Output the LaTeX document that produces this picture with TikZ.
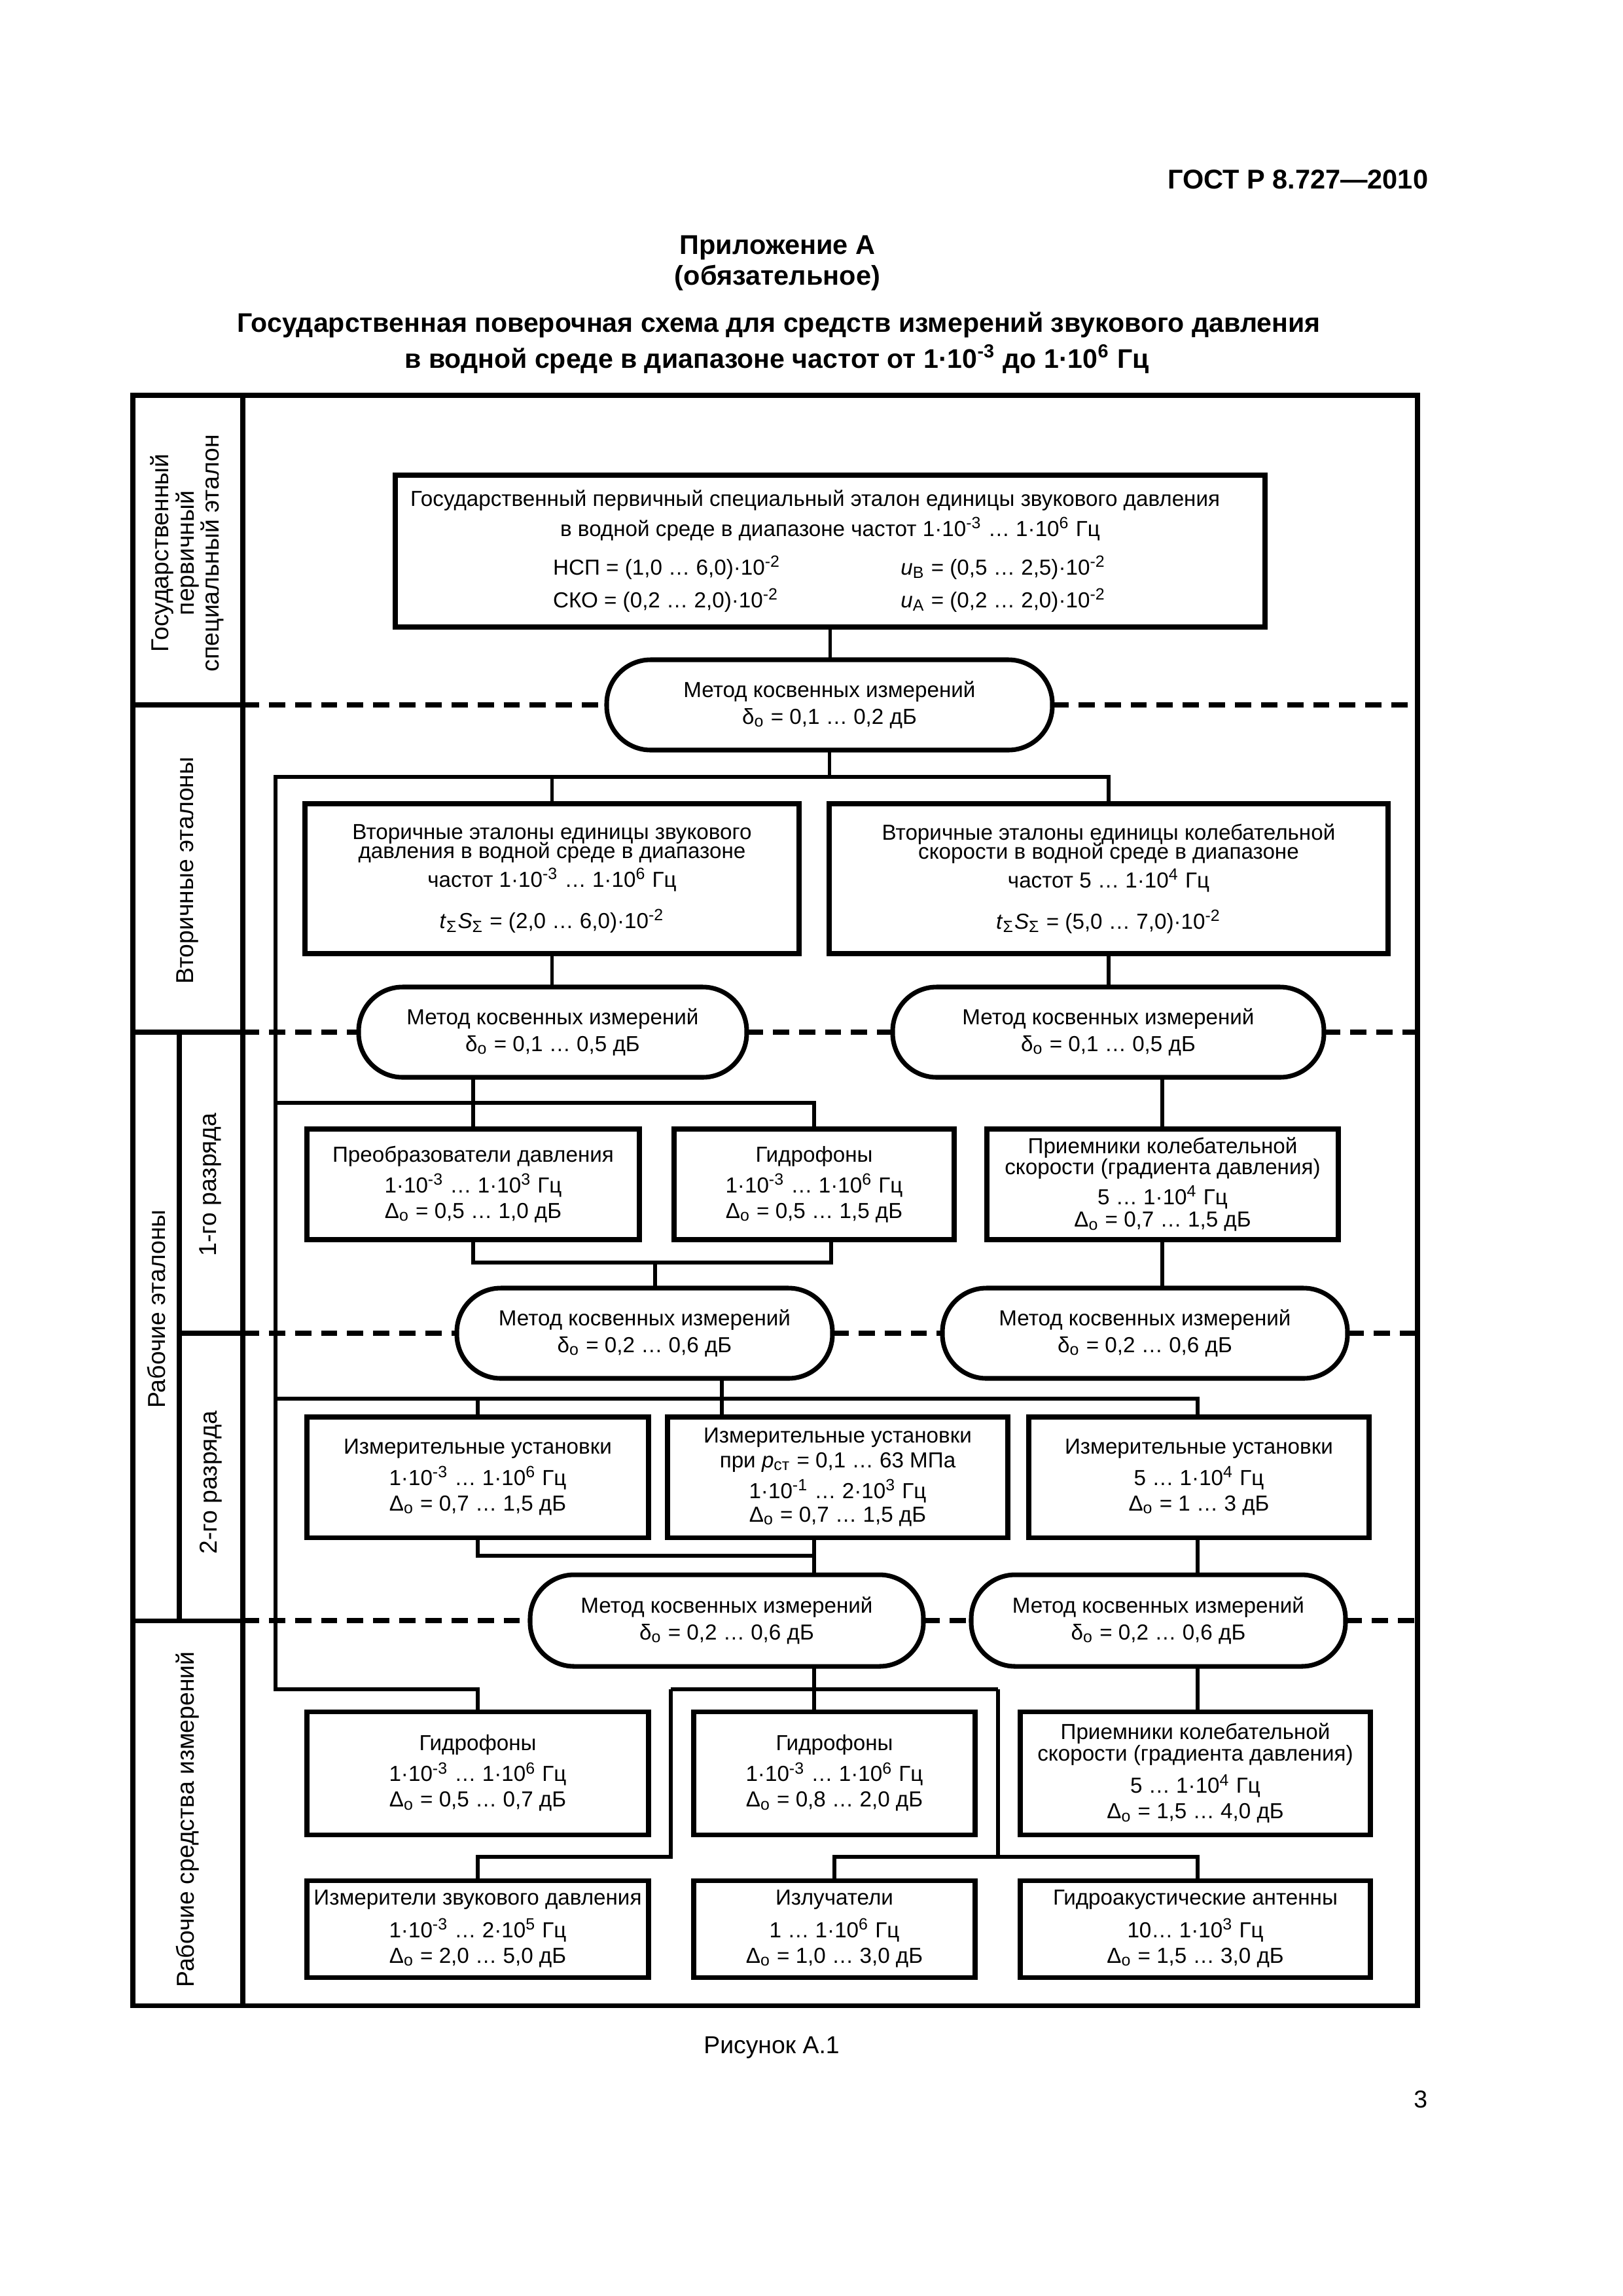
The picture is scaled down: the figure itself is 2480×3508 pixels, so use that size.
\documentclass[tikz,border=0pt]{standalone}
\usepackage{fontspec}
\setmainfont{Liberation Sans}
\newcommand\bxf{\fontsize{8}{9.4}\selectfont}
\newcommand\lbf{\fontsize{9}{9.2}\selectfont}
\newcommand\sps[1]{\textsuperscript{#1}}
\newcommand\sbs[1]{\textsubscript{#1}}
\newcommand\PXU{0.0846774mm}
\newcommand\mkbox[6]{\node[boxst, minimum width={(#4-#2)*\PXU}, minimum height={(#5-#3)*\PXU}] (#1) at ({(#2+#4)/2},{(#3+#5)/2}) {#6};}
\newcommand\mkstad[6]{\node[stadst, minimum width={(#4-#2)*\PXU}, minimum height={(#5-#3)*\PXU}] (#1) at ({(#2+#4)/2},{(#3+#5)/2}) {#6};}
\tikzset{
 boxst/.style={draw, line width=1.7pt, inner sep=0pt, outer sep=0pt, align=center, font=\bxf},
 stadst/.style={draw, line width=1.7pt, rounded corners=5.7mm, inner sep=0pt, outer sep=0pt, align=center, font=\bxf},
 conn/.style={line width=1.4pt},
 dsh/.style={line width=1.8pt, dash pattern=on 6pt off 3.6pt},
 frm/.style={line width=1.7pt},
 lab/.style={font=\lbf, align=center, rotate=90, inner sep=0pt},
 hdr/.style={anchor=base, font=\bfseries\fontsize{10}{12}\selectfont, inner sep=0pt},
}
\begin{document}
\begin{tikzpicture}[x=0.0846774mm, y=-0.0846774mm]
\useasboundingbox (0,0) rectangle (2480,3508);
% header
\node[hdr, anchor=base east] (gost) at (2183,288) {ГОСТ Р 8.727—2010};
\node[hdr] (pril) at (1188,388) {Приложение А};
\node[hdr] (obz) at (1188,435) {(обязательное)};
\node[hdr, font=\bfseries\fontsize{9.9}{12}\selectfont] (t1) at (1190,507) {Государственная поверочная схема для средств измерений звукового давления};
\node[hdr, font=\bfseries\fontsize{9.9}{12}\selectfont] (t2) at (1187,562) {в водной среде в диапазоне частот от 1·10\sps{-3} до 1·10\sps{6} Гц};
% frame
\draw[frm] (203,604) rectangle (2166,3064);
\draw[frm] (371,604) -- (371,3064);
\draw[frm] (274,1577) -- (274,2476);
\draw[frm] (203,1077) -- (371,1077);
\draw[frm] (203,1577) -- (371,1577);
\draw[frm] (274,2037) -- (371,2037);
\draw[frm] (203,2476) -- (371,2476);
\coordinate (colx) at (371,0);
\coordinate (frx) at (2166,0);
% labels
\node[lab] (lg) at (286,845) {Государственный\\первичный\\специальный эталон};
\node[lab] (lv) at (287,1330) {Вторичные эталоны};
\node[lab] (lr) at (239,2000) {Рабочие эталоны};
\node[lab] (l1) at (322,1810) {1-го разряда};
\node[lab] (l2) at (322,2265) {2-го разряда};
\node[lab] (lw) at (287,2780) {Рабочие средства измерений};
% boxes
\mkbox{TOP}{604}{726}{1933}{958}{Государственный первичный специальный эталон единицы звукового давления\hspace*{11pt}\\[1.6pt]
в водной среде в диапазоне частот 1·10\sps{-3} … 1·10\sps{6} Гц\hspace*{11pt}\\[4.8pt]
\makebox[128pt][l]{НСП = (1,0 … 6,0)·10\sps{-2}}\makebox[76pt][l]{\textit{u}\sbs{B} = (0,5 … 2,5)·10\sps{-2}}\\[2.6pt]
\makebox[128pt][l]{СКО = (0,2 … 2,0)·10\sps{-2}}\makebox[76pt][l]{\textit{u}\sbs{A} = (0,2 … 2,0)·10\sps{-2}}}
\mkstad{S1}{927}{1008}{1608}{1146}{Метод косвенных измерений\\[0.4pt]δ\sbs{о} = 0,1 … 0,2 дБ}
\mkbox{V1}{466}{1228}{1221}{1457}{Вторичные эталоны единицы звукового\\[-2.5pt]давления в водной среде в диапазоне\\[1.3pt]частот 1·10\sps{-3} … 1·10\sps{6} Гц\\[5.7pt]\textit{t}\sbs{Σ}\textit{S}\sbs{Σ} = (2,0 … 6,0)·10\sps{-2}}
\mkbox{V2}{1267}{1228}{2121}{1457}{Вторичные эталоны единицы колебательной\\[-2.5pt]скорости в водной среде в диапазоне\\[1.3pt]частот 5 … 1·10\sps{4} Гц\\[5.7pt]\textit{t}\sbs{Σ}\textit{S}\sbs{Σ} = (5,0 … 7,0)·10\sps{-2}}
\mkstad{S2L}{548}{1508}{1141}{1646}{Метод косвенных измерений\\[0.4pt]δ\sbs{о} = 0,1 … 0,5 дБ}
\mkstad{S2R}{1364}{1508}{2023}{1646}{Метод косвенных измерений\\[0.4pt]δ\sbs{о} = 0,1 … 0,5 дБ}
\mkbox{R1a}{469}{1725}{977}{1894}{Преобразователи давления\\[2pt]1·10\sps{-3} … 1·10\sps{3} Гц\\Δ\sbs{о} = 0,5 … 1,0 дБ}
\mkbox{R1b}{1030}{1725}{1458}{1894}{Гидрофоны\\[2pt]1·10\sps{-3} … 1·10\sps{6} Гц\\Δ\sbs{о} = 0,5 … 1,5 дБ}
\mkbox{R1c}{1508}{1725}{2045}{1894}{Приемники колебательной\\[-1.5pt]скорости (градиента давления)\\[1.5pt]5 … 1·10\sps{4} Гц\\[-1pt]Δ\sbs{о} = 0,7 … 1,5 дБ}
\mkstad{S3L}{698}{1968}{1272}{2106}{Метод косвенных измерений\\[0.4pt]δ\sbs{о} = 0,2 … 0,6 дБ}
\mkstad{S3R}{1440}{1968}{2059}{2106}{Метод косвенных измерений\\[0.4pt]δ\sbs{о} = 0,2 … 0,6 дБ}
\mkbox{R2a}{469}{2165}{991}{2349}{Измерительные установки\\[2pt]1·10\sps{-3} … 1·10\sps{6} Гц\\Δ\sbs{о} = 0,7 … 1,5 дБ}
\mkbox{R2b}{1020}{2165}{1540}{2349}{Измерительные установки\\[-0.3pt]при \textit{p}\sbs{ст} = 0,1 … 63 МПа\\[1.9pt]1·10\sps{-1} … 2·10\sps{3} Гц\\[-0.7pt]Δ\sbs{о} = 0,7 … 1,5 дБ}
\mkbox{R2c}{1572}{2165}{2092}{2349}{Измерительные установки\\[2pt]5 … 1·10\sps{4} Гц\\Δ\sbs{о} = 1 … 3 дБ}
\mkstad{S4L}{810}{2406}{1411}{2546}{Метод косвенных измерений\\[0.4pt]δ\sbs{о} = 0,2 … 0,6 дБ}
\mkstad{S4R}{1484}{2406}{2056}{2546}{Метод косвенных измерений\\[0.4pt]δ\sbs{о} = 0,2 … 0,6 дБ}
\mkbox{W1a}{469}{2615}{991}{2803}{Гидрофоны\\[2pt]1·10\sps{-3} … 1·10\sps{6} Гц\\Δ\sbs{о} = 0,5 … 0,7 дБ}
\mkbox{W1b}{1060}{2615}{1490}{2803}{Гидрофоны\\[2pt]1·10\sps{-3} … 1·10\sps{6} Гц\\Δ\sbs{о} = 0,8 … 2,0 дБ}
\mkbox{W1c}{1559}{2615}{2094}{2803}{Приемники колебательной\\[-1.5pt]скорости (градиента давления)\\[2.6pt]5 … 1·10\sps{4} Гц\\Δ\sbs{о} = 1,5 … 4,0 дБ}
\mkbox{W2a}{469}{2873}{991}{3021}{Измерители звукового давления\\[2.5pt]1·10\sps{-3} … 2·10\sps{5} Гц\\Δ\sbs{о} = 2,0 … 5,0 дБ}
\mkbox{W2b}{1060}{2873}{1490}{3021}{Излучатели\\[2.5pt]1 … 1·10\sps{6} Гц\\Δ\sbs{о} = 1,0 … 3,0 дБ}
\mkbox{W2c}{1559}{2873}{2094}{3021}{Гидроакустические антенны\\[2.5pt]10… 1·10\sps{3} Гц\\Δ\sbs{о} = 1,5 … 3,0 дБ}
% dashed level lines
\draw[dsh] (S1.west -| colx) -- (S1.west);
\draw[dsh] (S1.east) -- (S1.east -| frx);
\draw[dsh] (S2L.west -| colx) -- (S2L.west);
\draw[dsh] (S2L.east) -- (S2R.west);
\draw[dsh] (S2R.east) -- (S2R.east -| frx);
\draw[dsh] (S3L.west -| colx) -- (S3L.west);
\draw[dsh] (S3L.east) -- (S3R.west);
\draw[dsh] (S3R.east) -- (S3R.east -| frx);
\draw[dsh] (S4L.west -| colx) -- (S4L.west);
\draw[dsh] (S4L.east) -- (S4R.west);
\draw[dsh] (S4R.east) -- (S4R.east -| frx);
% connectors
\coordinate (L1) at (421,1187);
\coordinate (L2) at (421,2581);
\coordinate (L3) at (421,1685);
\coordinate (L4) at (421,2137);
\coordinate (X1) at (1776,0);
\coordinate (X2) at (1830,0);
\coordinate (M1R) at (1270,1929);
\coordinate (M1J) at (1001,1929);
\coordinate (B2J) at (1103,2137);
\coordinate (M2R) at (1244,2377);
\coordinate (M3) at (1244,2581);
\coordinate (M3L) at (1025,2581);
\coordinate (M3R) at (1525,2581);
\coordinate (M4L) at (1025,2837);
\coordinate (M4R) at (1525,2837);
\draw[conn] (TOP.south) -- (TOP.south |- S1.north);
\draw[conn] (S1.south) -- (S1.south |- L1);
\draw[conn] (V2.north) |- (L1) -- (L2) -| (W1a.north);
\draw[conn] (V1.north) -- (V1.north |- L1);
\draw[conn] (V1.south) -- (V1.south |- S2L.north);
\draw[conn] (V2.south) -- (V2.south |- S2R.north);
\draw[conn] (S2L.south -| R1a.north) -- (R1a.north);
\draw[conn] (L3) -| (R1b.north);
\draw[conn] (S2R.south -| X1) -- (R1c.north -| X1);
\draw[conn] (R1a.south) |- (M1R) -- (M1R |- R1b.south);
\draw[conn] (M1J) -- (M1J |- S3L.north);
\draw[conn] (R1c.south -| X1) -- (S3R.north -| X1);
\draw[conn] (S3L.south -| B2J) -- (B2J);
\draw[conn] (L4) -| (R2c.north -| X2);
\draw[conn] (R2a.north |- L4) -- (R2a.north);
\draw[conn] (B2J) -- (B2J |- R2b.north);
\draw[conn] (R2a.south) |- (M2R) -- (M2R |- R2b.south);
\draw[conn] (M2R) -- (M2R |- S4L.north);
\draw[conn] (R2c.south -| X2) -- (S4R.north -| X2);
\draw[conn] (S4L.south -| M3) -- (M3 |- W1b.north);
\draw[conn] (M3L) -- (M3R);
\draw[conn] (M3L) -- (M4L) -| (W2a.north);
\draw[conn] (M3R) -- (M4R);
\draw[conn] (W2b.north) |- (M4R) -| (W2c.north -| X2);
\draw[conn] (S4R.south -| X2) -- (W1c.north -| X2);
% footer
\node[anchor=base, font=\fontsize{9}{11}\selectfont, inner sep=0pt] (fig) at (1179,3137) {Рисунок А.1};
\node[anchor=base east, font=\fontsize{9}{11}\selectfont, inner sep=0pt] (pg) at (2182,3220) {3};
\end{tikzpicture}
\end{document}
